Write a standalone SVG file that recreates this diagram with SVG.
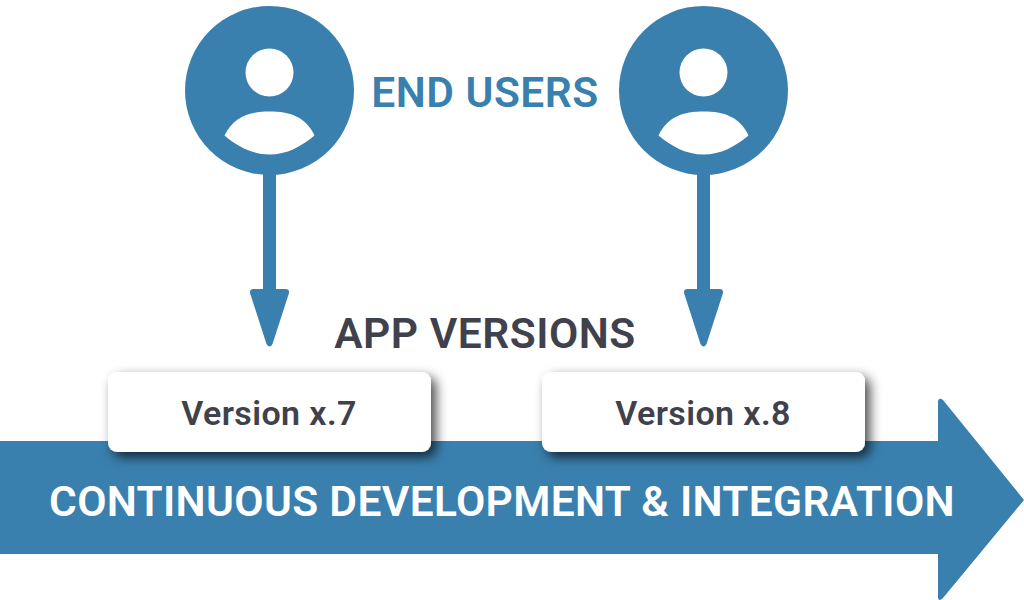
<svg xmlns="http://www.w3.org/2000/svg" width="1024" height="600" viewBox="0 0 1024 600">
<defs>
<filter id="sh" x="-10%" y="-25%" width="125%" height="160%"><feDropShadow dx="5" dy="5" stdDeviation="6" flood-color="#000" flood-opacity="0.7"/></filter>
<g id="user">
<circle cx="0" cy="0" r="84.500" fill="#3980AE"/>
<circle cx="0" cy="-18" r="24" fill="#fff"/>
<path d="M-45 45C-36 26 -20 21 0 21C20 21 36 26 45 45C32 56 17 64 0 64C-17 64 -32 56 -45 45Z" fill="#fff"/>
</g>
<path id="arrowhead" d="M-16 0H16Q20 0 19.500 4L3 55Q0 60 -3 55L-19.500 4Q-20 0 -16 0Z" fill="#3980AE"/>
</defs>
<style>
text{font-family:Roboto,"Liberation Sans",sans-serif;font-weight:650;text-anchor:middle;letter-spacing:.012em}
.dark{fill:#3F424C}
.banner{letter-spacing:.008em}
</style>
<rect width="1024" height="600" fill="#fff"/>
<g id="timeline">
<path d="M0 441H938V401Q939 397 943 400L1024 500L943 598Q939 602 938 598V554H0Z" fill="#3980AE"/>
<text class="banner" x="502" y="516" font-size="42.500" fill="#fff">CONTINUOUS DEVELOPMENT &amp; INTEGRATION</text>
</g>
<g id="connectors">
<rect x="263" y="170" width="13" height="120" fill="#3980AE"/>
<use href="#arrowhead" x="269.500" y="289"/>
<rect x="697" y="170" width="13" height="120" fill="#3980AE"/>
<use href="#arrowhead" x="703.500" y="289"/>
</g>
<g id="user-1"><use href="#user" x="269.500" y="90.500"/></g>
<g id="user-2"><use href="#user" x="703.500" y="90.500"/></g>
<g id="end-users"><text x="485" y="107" font-size="42.500" fill="#3980AE">END USERS</text></g>
<g id="app-versions"><text x="485" y="348" font-size="42.500" class="dark">APP VERSIONS</text></g>
<g id="version-7">
<rect x="108" y="372" width="323" height="80" rx="9" fill="#fff" filter="url(#sh)"/>
<text x="269" y="425" font-size="34" class="dark">Version x.7</text>
</g>
<g id="version-8">
<rect x="542" y="372" width="323" height="80" rx="9" fill="#fff" filter="url(#sh)"/>
<text x="703" y="425" font-size="34" class="dark">Version x.8</text>
</g>
</svg>
